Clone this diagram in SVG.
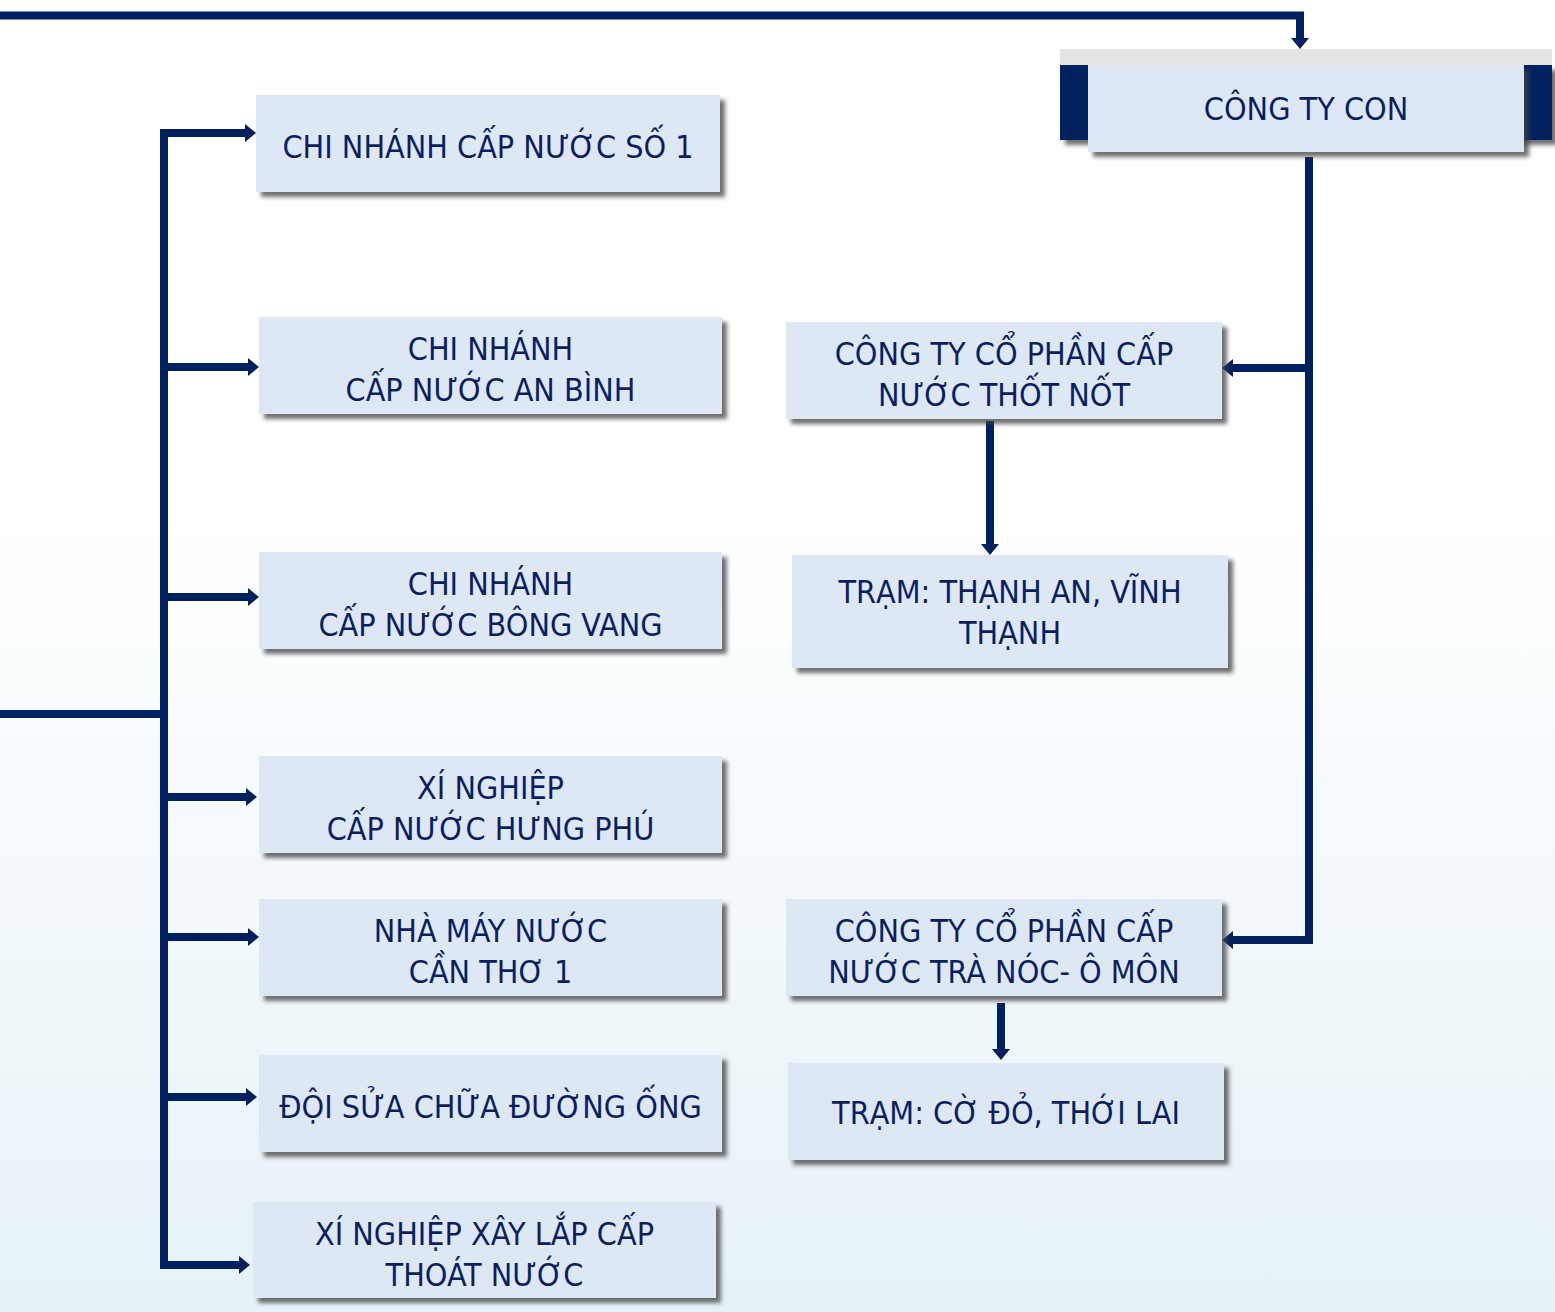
<svg xmlns="http://www.w3.org/2000/svg" width="1555" height="1312" viewBox="0 0 1555 1312">
<style>
.box{fill:#dde8f4;filter:url(#sh);}
.t{font-family:'DejaVu Sans Condensed','DejaVu Sans',sans-serif;font-stretch:condensed;font-size:32px;fill:#0b1f5e;text-anchor:middle;}
.c{fill:none;stroke:#00205f;stroke-width:8;}
</style>
<defs>
<linearGradient id="bg" x1="0" y1="0" x2="0" y2="1">
<stop offset="0" stop-color="#ffffff"/>
<stop offset="0.38" stop-color="#ffffff"/>
<stop offset="1" stop-color="#e6f2f7"/>
</linearGradient>
<filter id="sh" x="-5%" y="-10%" width="115%" height="130%">
<feDropShadow dx="5" dy="5" stdDeviation="2.2" flood-color="#404040" flood-opacity="0.75"/>
</filter>
<marker id="ah" markerUnits="userSpaceOnUse" markerWidth="12" markerHeight="20" refX="0" refY="9" orient="auto" viewBox="0 0 12 18">
<path d="M0,0 L11,9 L0,18 z" fill="#00205f"/>
</marker>
</defs>
<rect x="0" y="0" width="1555" height="1312" fill="url(#bg)"/>

<g id="connectors">
<path class="c" d="M0,15.5 H1300 V38" stroke-width="9" marker-end="url(#ah)"/>
<path class="c" d="M1309,157 V944"/>
<path class="c" d="M1313,368 H1233" marker-end="url(#ah)"/>
<path class="c" d="M1313,940 H1233" marker-end="url(#ah)"/>
<path class="c" d="M990,421 V544" marker-end="url(#ah)"/>
<path class="c" d="M1001,1003 V1049" marker-end="url(#ah)"/>
<path class="c" d="M0,714 H164"/>
<path class="c" d="M164,129 V1269"/>
<path class="c" d="M160,133 H245" marker-end="url(#ah)"/>
<path class="c" d="M160,367 H248" marker-end="url(#ah)"/>
<path class="c" d="M160,597 H248" marker-end="url(#ah)"/>
<path class="c" d="M160,797 H246" marker-end="url(#ah)"/>
<path class="c" d="M160,937 H248" marker-end="url(#ah)"/>
<path class="c" d="M160,1097 H246" marker-end="url(#ah)"/>
<path class="c" d="M160,1265 H239" marker-end="url(#ah)"/>
</g>

<g id="cong-ty-con">
<rect x="1060" y="49" width="492" height="16" fill="#e4e4e4"/>
<rect x="1060" y="65" width="492" height="75" fill="#00205f" filter="url(#sh)"/>
<rect class="box" x="1088" y="65" width="436" height="87"/>
<text class="t" x="1306" y="120">CÔNG TY CON</text>
</g>

<g id="cn-so-1">
<rect class="box" x="256" y="95" width="464" height="97"/>
<text class="t" x="488" y="158">CHI NHÁNH CẤP NƯỚC SỐ 1</text>
</g>
<g id="cn-an-binh">
<rect class="box" x="259" y="317" width="463" height="97"/>
<text class="t" x="490.5" y="359.5">CHI NHÁNH</text>
<text class="t" x="490.5" y="401">CẤP NƯỚC AN BÌNH</text>
</g>
<g id="cn-bong-vang">
<rect class="box" x="259" y="552" width="463" height="97"/>
<text class="t" x="490.5" y="594.5">CHI NHÁNH</text>
<text class="t" x="490.5" y="636">CẤP NƯỚC BÔNG VANG</text>
</g>
<g id="xn-hung-phu">
<rect class="box" x="259" y="756" width="463" height="97"/>
<text class="t" x="490.5" y="798.5">XÍ NGHIỆP</text>
<text class="t" x="490.5" y="840">CẤP NƯỚC HƯNG PHÚ</text>
</g>
<g id="nmn-can-tho-1">
<rect class="box" x="259" y="899" width="463" height="97"/>
<text class="t" x="490.5" y="941.5">NHÀ MÁY NƯỚC</text>
<text class="t" x="490.5" y="983">CẦN THƠ 1</text>
</g>
<g id="doi-sua-chua">
<rect class="box" x="259" y="1055" width="463" height="97"/>
<text class="t" x="490.5" y="1118">ĐỘI SỬA CHỮA ĐƯỜNG ỐNG</text>
</g>
<g id="xn-xay-lap">
<rect class="box" x="253" y="1202" width="463" height="96"/>
<text class="t" x="484.5" y="1244.5">XÍ NGHIỆP XÂY LẮP CẤP</text>
<text class="t" x="484.5" y="1286">THOÁT NƯỚC</text>
</g>

<g id="ctcp-thot-not">
<rect class="box" x="786" y="322" width="436" height="97"/>
<text class="t" x="1004" y="364.5">CÔNG TY CỔ PHẦN CẤP</text>
<text class="t" x="1004" y="406">NƯỚC THỐT NỐT</text>
</g>
<g id="tram-thanh-an">
<rect class="box" x="792" y="555" width="436" height="113"/>
<text class="t" x="1010" y="603">TRẠM: THẠNH AN, VĨNH</text>
<text class="t" x="1010" y="644">THẠNH</text>
</g>
<g id="ctcp-tra-noc">
<rect class="box" x="786" y="899" width="436" height="97"/>
<text class="t" x="1004" y="941.5">CÔNG TY CỔ PHẦN CẤP</text>
<text class="t" x="1004" y="983">NƯỚC TRÀ NÓC- Ô MÔN</text>
</g>
<g id="tram-co-do">
<rect class="box" x="788" y="1063" width="436" height="97"/>
<text class="t" x="1006" y="1124">TRẠM: CỜ ĐỎ, THỚI LAI</text>
</g>
</svg>
